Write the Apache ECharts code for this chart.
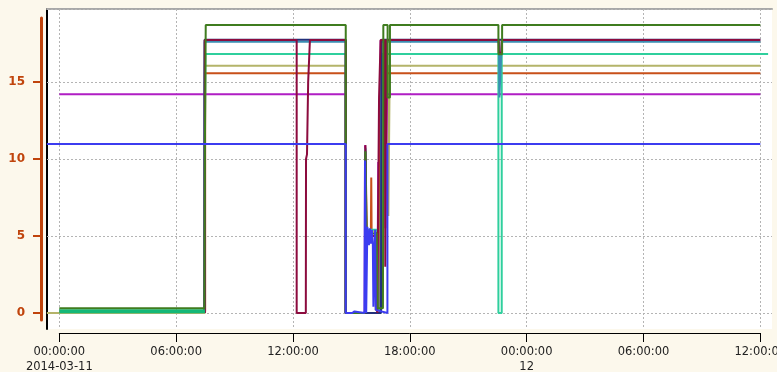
<!DOCTYPE html>
<html>
<head>
<meta charset="utf-8">
<script src="https://cdn.jsdelivr.net/npm/echarts@6/dist/echarts.min.js"></script>
<style>
  html, body { margin: 0; padding: 0; background: #fcf8ec; }
  #chart { width: 777px; height: 372px; }
</style>
</head>
<body>
<div id="chart"></div>
<script>
// x values are hours since 2014-03-11 00:00:00
const xTickLabels = ['00:00:00\n2014-03-11', '06:00:00', '12:00:00', '18:00:00', '00:00:00\n12', '06:00:00', '12:00:00'];
const yTicks = [0, 5, 10, 15];

const purplePts = [[0, 14.2], [14.71, 14.2], [14.71, 0], [15.68, 0], [15.7, 10.9], [15.74, 10.5], [15.76, 5], [16.3, 5], [16.33, 0], [16.36, 0], [16.38, 9.8], [16.45, 9.5], [16.5, 17.7], [16.72, 17.7], [16.75, 5.5], [16.8, 5.5], [16.83, 14.2], [36, 14.2]];
const khakiPts = [[-0.64, 0], [7.48, 0], [7.48, 16.06], [14.71, 16.06], [14.71, 0], [15.7, 0], [15.72, 10.2], [15.75, 5.3], [16.2, 5.3], [16.25, 0.2], [16.4, 0.2], [16.42, 4.9], [16.5, 4.9], [16.52, 16.06], [16.9, 16.06], [16.9, 6.3], [16.95, 6.3], [16.97, 16.06], [36, 16.06]];
const orangePts = [[0, 0.1], [7.49, 0.1], [7.49, 15.56], [14.71, 15.56], [14.71, 0], [15.7, 0], [15.72, 10.3], [15.8, 5.2], [16.0, 5.2], [16.02, 8.8], [16.04, 5.0], [16.3, 5.0], [16.33, 0], [16.46, 0], [16.48, 13.0], [16.55, 13.0], [16.58, 15.56], [36, 15.56]];
const aquaLowPts = [[0, 0.12], [7.48, 0.12]];
const aquaPts = [[7.48, 0.12], [7.48, 11.9], [7.5, 16.82], [14.71, 16.82], [14.71, 0], [15.7, 0], [15.72, 10.7], [15.76, 5.4], [16.3, 5.4], [16.33, 0.2], [16.5, 0.2], [16.52, 10], [16.58, 16.82], [22.55, 16.82], [22.55, 0], [22.72, 0], [22.72, 16.82], [36.4, 16.82]];
const tealPts = [[7.45, 0], [7.45, 14], [7.47, 17.62], [14.71, 17.62], [14.71, 0], [15.7, 0], [15.72, 10.4], [15.76, 5], [16.3, 5], [16.33, 0], [16.5, 0], [16.54, 17.62], [22.58, 17.62], [22.6, 14.0], [22.7, 14.0], [22.72, 17.62], [36, 17.62]];
const navyPts = [[7.45, 0], [7.46, 17.75], [14.71, 17.75], [14.71, 0], [16.52, 0], [16.55, 17.75], [36, 17.75]];
const maroonPts = [[7.47, 0], [7.47, 17.73], [12.19, 17.73], [12.19, 0], [12.66, 0], [12.67, 10.0], [12.72, 10.3], [12.78, 15], [12.85, 15], [12.87, 17.73], [14.71, 17.73], [14.71, 0], [15.7, 0], [15.72, 10.9], [15.76, 5], [16.3, 5], [16.33, 0], [16.4, 0], [16.42, 14], [16.5, 17.73], [16.72, 17.73], [16.74, 3], [16.8, 3], [16.82, 17.73], [22.56, 17.73], [22.57, 16.9], [22.7, 16.9], [22.72, 17.73], [36, 17.73]];
const greenPts = [[0, 0.3], [7.45, 0.3], [7.48, 11.4], [7.52, 18.7], [14.71, 18.7], [14.71, 0], [15.7, 0], [15.72, 10.5], [15.78, 5.1], [16.3, 5.2], [16.35, 0.3], [16.62, 0.3], [16.64, 18.7], [16.86, 18.7], [16.86, 14], [16.98, 14], [16.98, 18.7], [22.55, 18.7], [22.55, 16.8], [22.74, 16.8], [22.74, 18.7], [36, 18.7]];
const bluePts = [[-0.64, 10.97], [14.71, 10.97], [14.71, 0], [15.04, 0], [15.06, 0.1], [15.16, 0.1], [15.18, 0], [15.67, 0], [15.7, 9.9], [15.74, 9.9], [15.76, 0], [15.8, 0], [15.82, 5.6], [15.9, 4.4], [15.95, 5.5], [16.0, 4.5], [16.05, 5.4], [16.1, 4.6], [16.13, 0.4], [16.2, 0.4], [16.22, 5.4], [16.25, 0.2], [16.3, 0.2], [16.85, 0], [16.85, 10.97], [36, 10.97]];

const axisColor = '#c0440c';
const gridLine = { show: true, lineStyle: { color: '#b4b4b4', type: [2, 2], width: 1 } };

function line(name, data, color, width) {
  return {
    name: name, type: 'line', data: data, xAxisIndex: 0, yAxisIndex: 0,
    showSymbol: false, symbol: 'none', animation: false,
    lineStyle: { color: color, width: width || 2 }
  };
}

const chart = echarts.init(document.getElementById('chart'));
chart.setOption({
  backgroundColor: '#fcf8ec',
  animation: false,
  grid: [
    // data area
    { left: 47, top: 9, width: 725, height: 320, show: true, backgroundColor: '#fff', borderWidth: 0, outerBoundsMode: 'none', containLabel: false },
    // bottom time axis + vertical grid lines
    { left: 59.3, top: 9, width: 701, height: 320, outerBoundsMode: 'none', containLabel: false },
    // visible y axis
    { left: 41, top: 18, width: 10, height: 302, outerBoundsMode: 'none', containLabel: false },
    // horizontal grid lines
    { left: 47, top: 9, width: 725, height: 304, outerBoundsMode: 'none', containLabel: false }
  ],
  xAxis: [
    { gridIndex: 0, type: 'value', min: -0.632, max: 36.6, position: 'top',
      axisLine: { show: true, onZero: false, lineStyle: { color: '#a8a8a8', width: 2 } },
      axisTick: { show: false }, axisLabel: { show: false }, splitLine: { show: false } },
    { gridIndex: 1, type: 'value', min: 0, max: 36, interval: 6, position: 'bottom', offset: 4, z: 1,
      axisLine: { show: true, onZero: false, lineStyle: { color: '#000', width: 1 } },
      axisTick: { show: true, length: 9, lineStyle: { color: '#000' } },
      axisLabel: { margin: 12, color: '#222', fontFamily: 'DejaVu Sans', fontSize: 11.5, lineHeight: 15,
        showMaxLabel: true, formatter: v => xTickLabels[Math.round(v / 6)] },
      splitLine: gridLine },
    { gridIndex: 2, type: 'value', show: false, min: 0, max: 1 },
    { gridIndex: 3, type: 'value', show: false, min: 0, max: 1 }
  ],
  yAxis: [
    { gridIndex: 0, type: 'value', min: -1.04, max: 19.74, position: 'left',
      axisLine: { show: true, onZero: false, lineStyle: { color: '#000', width: 2 } },
      axisTick: { show: false }, axisLabel: { show: false }, splitLine: { show: false } },
    { gridIndex: 1, type: 'value', show: false, min: 0, max: 1 },
    { gridIndex: 2, type: 'value', min: -0.4545, max: 19.156, position: 'left',
      axisLine: { show: true, onZero: false, lineStyle: { color: axisColor, width: 3 } },
      axisTick: { show: true, length: 8, customValues: yTicks, lineStyle: { color: axisColor, width: 2 } },
      axisLabel: { margin: 16, customValues: yTicks, color: axisColor, fontFamily: 'DejaVu Sans', fontWeight: 'bold', fontSize: 12 },
      splitLine: { show: false } },
    { gridIndex: 3, type: 'value', min: 0, max: 19.74, interval: 5, z: 1,
      axisLine: { show: false }, axisTick: { show: false }, axisLabel: { show: false },
      splitLine: gridLine }
  ],
  series: [
    line('khaki', khakiPts, '#b4b46a'),
    line('purple', purplePts, '#b01ec4'),
    line('orange', orangePts, '#c8501a'),
    line('aqua', aquaPts, '#2fcf9d'),
    line('teal', tealPts, '#3b8db3'),
    line('navy', navyPts, '#22307a'),
    line('maroon', maroonPts, '#8c0b3e'),
    line('aqua', aquaLowPts, '#14b877', 4),
    line('green', greenPts, '#3f7c1f'),
    line('blue', bluePts, '#3c3cf0')
  ]
});
</script>
</body>
</html>
